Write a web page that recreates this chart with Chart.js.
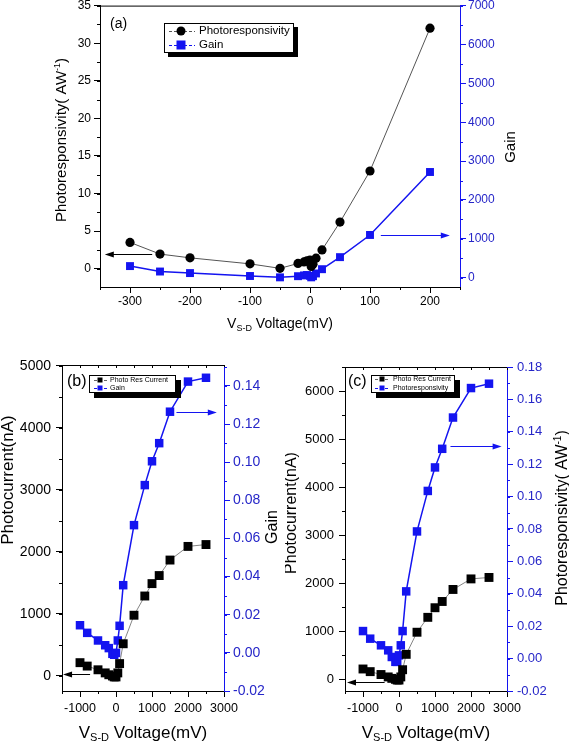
<!DOCTYPE html>
<html>
<head>
<meta charset="utf-8">
<script src="https://cdn.jsdelivr.net/npm/chart.js@4.4.0/dist/chart.umd.min.js"></script>
<style>
  html, body { margin: 0; padding: 0; background: #fff; }
  #wrap { position: relative; width: 569px; height: 746px; overflow: hidden; }
  canvas { position: absolute; }
</style>
</head>
<body>
<div id="wrap">
  <canvas id="ca" width="569" height="345" style="left:0;top:0"></canvas>
  <canvas id="cb" width="285" height="401" style="left:0;top:345px"></canvas>
  <canvas id="cc" width="284" height="401" style="left:285px;top:345px"></canvas>
</div>
<script>
// ---- data ----
// (a) photoresponsivity and gain vs V_S-D (mV)
const voltA = [-300, -250, -200, -100, -50, -20, -10, -5, 0, 2, 5, 10, 20, 50, 100, 200];
const respA = [3.5, 1.95, 1.45, 0.65, 0.05, 0.7, 0.9, 1.05, 1.15, 0.3, 0.6, 1.4, 2.5, 6.2, 13, 32];
const gainA = [300, 160, 120, 45, 10, 40, 60, 70, 50, 10, 40, 110, 220, 530, 1100, 2720];

// (b) and (c) photocurrent (nA), gain, photoresponsivity vs V_S-D (mV)
const voltBC = [-1000, -800, -500, -300, -200, -100, -50, 0, 50, 100, 200, 500, 800, 1000, 1200, 1500, 2000, 2500];
const currentB = [215, 160, 100, 50, 20, 0, -15, -15, 50, 200, 520, 980, 1290, 1490, 1620, 1870, 2090, 2120];
const gainB = [0.0145, 0.0105, 0.0065, 0.004, 0.0025, -0.0005, -0.001, 0.0, 0.0065, 0.0142, 0.0355, 0.067, 0.088, 0.1005, 0.110, 0.1265, 0.1423, 0.1443];
const currentC = [215, 160, 100, 50, 20, 0, -15, -15, 50, 200, 520, 980, 1290, 1490, 1620, 1870, 2090, 2120];
const respC = [0.017, 0.0123, 0.0082, 0.0051, 0.001, -0.002, -0.002, 0.002, 0.0082, 0.017, 0.0415, 0.0785, 0.1035, 0.118, 0.1295, 0.1488, 0.167, 0.1697];

const FONT = "'Liberation Sans', Arial, sans-serif";
const BLUE = '#1414f0';
const BLUE_TXT = '#2626c8';

function pts(xs, ys) { return xs.map((x, i) => ({ x: x, y: ys[i] })); }

function majorTicks(step) {
  return function (scale) {
    const out = [];
    for (let i = Math.ceil(scale.min / step - 1e-9); i * step <= scale.max + 1e-9; i++) out.push({ value: i * step });
    scale.ticks = out;
  };
}

function axis(o) {
  const horiz = o.pos === 'bottom';
  return {
    type: 'linear', position: o.pos, min: o.min, max: o.max,
    afterBuildTicks: majorTicks(o.step),
    afterFit: function (s) {
      if (horiz) { s.height = o.size; s.paddingLeft = 0; s.paddingRight = 0; }
      else { s.width = o.size; s.paddingTop = 0; s.paddingBottom = 0; }
    },
    grid: { drawOnChartArea: false, drawTicks: true, tickLength: 6, color: o.color, tickColor: o.color, tickWidth: 1 },
    border: { display: true, color: o.color, width: 1 },
    ticks: {
      autoSkip: false, maxRotation: 0, minRotation: 0, padding: o.pad,
      color: o.text || o.color, font: { family: FONT, size: o.font },
      callback: o.fmt || (v => String(Math.round(v)))
    }
  };
}

// short ticks between the labelled ones, plus the top frame line
const minorTicks = {
  id: 'minorTicks',
  afterDraw(chart, args, opts) {
    const ctx = chart.ctx, a = chart.chartArea;
    ctx.save();
    ctx.lineWidth = 1;
    ctx.strokeStyle = '#000';
    ctx.beginPath();
    ctx.moveTo(a.left, a.top + 0.5);
    ctx.lineTo(a.right, a.top + 0.5);
    ctx.stroke();
    (opts.axes || []).forEach(m => {
      const s = chart.scales[m.id];
      ctx.strokeStyle = m.color || '#000';
      ctx.beginPath();
      for (let i = Math.ceil(s.min / m.step - 1e-9); i * m.step <= s.max + 1e-9; i++) {
        const p = Math.round(s.getPixelForValue(i * m.step)) + 0.5;
        if (m.side === 'bottom') { ctx.moveTo(p, a.bottom); ctx.lineTo(p, a.bottom + m.len); }
        else if (m.side === 'top') { ctx.moveTo(p, a.top); ctx.lineTo(p, a.top + m.len); }
        else if (m.side === 'left') { ctx.moveTo(a.left, p); ctx.lineTo(a.left - m.len, p); }
        else { ctx.moveTo(a.right, p); ctx.lineTo(a.right + m.len, p); }
      }
      ctx.stroke();
    });
    ctx.restore();
  }
};

// arrows pointing at the axis each series belongs to (data coordinates)
const arrows = {
  id: 'arrows',
  afterDraw(chart, args, opts) {
    const ctx = chart.ctx;
    (opts.list || []).forEach(r => {
      const xs = chart.scales.x, ys = chart.scales[r.axis];
      const x1 = xs.getPixelForValue(r.from), x2 = xs.getPixelForValue(r.to);
      const y = Math.round(ys.getPixelForValue(r.y)) + 0.5;
      const dir = Math.sign(x2 - x1);
      ctx.save();
      ctx.strokeStyle = r.color; ctx.fillStyle = r.color; ctx.lineWidth = 1;
      ctx.beginPath(); ctx.moveTo(x1, y); ctx.lineTo(x2 - dir * 6, y); ctx.stroke();
      ctx.beginPath(); ctx.moveTo(x2, y); ctx.lineTo(x2 - dir * 9, y - 3); ctx.lineTo(x2 - dir * 9, y + 3); ctx.closePath(); ctx.fill();
      ctx.restore();
    });
  }
};

// axis titles and panel letters with sub/superscripts
const titles = {
  id: 'titles',
  afterDraw(chart, args, opts) {
    const ctx = chart.ctx;
    (opts.items || []).forEach(it => {
      const sz = it.size;
      const fontOf = p => (p.sub || p.sup ? Math.round(sz * 0.62) : sz) + 'px ' + FONT;
      ctx.save();
      ctx.fillStyle = it.color || '#000';
      ctx.textBaseline = 'middle';
      ctx.textAlign = 'left';
      let total = 0;
      it.parts.forEach(p => { ctx.font = fontOf(p); total += ctx.measureText(p.t).width; });
      ctx.translate(it.x, it.y);
      if (it.rot) ctx.rotate(it.rot * Math.PI / 180);
      let x = it.align === 'left' ? 0 : -total / 2;
      it.parts.forEach(p => {
        ctx.font = fontOf(p);
        const dy = p.sub ? sz * 0.32 : p.sup ? -sz * 0.32 : 0;
        ctx.fillText(p.t, x, dy);
        x += ctx.measureText(p.t).width;
      });
      ctx.restore();
    });
  }
};

// boxed legend with a drop shadow
const boxLegend = {
  id: 'boxLegend',
  afterDraw(chart, args, o) {
    if (!o.box) return;
    const ctx = chart.ctx;
    const [bx, by, bw, bh] = o.box;
    ctx.save();
    ctx.fillStyle = '#000';
    ctx.fillRect(bx + o.shadow, by + o.shadow, bw, bh);
    ctx.fillStyle = '#fff';
    ctx.fillRect(bx, by, bw, bh);
    ctx.strokeStyle = '#000'; ctx.lineWidth = 1;
    ctx.strokeRect(bx + 0.5, by + 0.5, bw - 1, bh - 1);
    o.rows.forEach(r => {
      const ds = chart.data.datasets[r.ds];
      ctx.strokeStyle = ds.borderColor; ctx.lineWidth = 1;
      ctx.setLineDash([3, 2]);
      ctx.beginPath(); ctx.moveTo(o.lx0, r.y + 0.5); ctx.lineTo(o.lx1, r.y + 0.5); ctx.stroke();
      ctx.setLineDash([]);
      ctx.fillStyle = ds.pointBackgroundColor;
      if (ds.pointStyle === 'circle') { ctx.beginPath(); ctx.arc(o.mx, r.y, o.ms / 2, 0, Math.PI * 2); ctx.fill(); }
      else ctx.fillRect(o.mx - o.ms / 2, r.y - o.ms / 2, o.ms, o.ms);
      ctx.fillStyle = '#000';
      ctx.font = o.font + 'px ' + FONT;
      ctx.textBaseline = 'middle';
      ctx.fillText(ds.label, o.tx, r.y);
    });
    ctx.restore();
  }
};

Chart.register(minorTicks, arrows, titles, boxLegend);

function series(label, data, axisId, color, lineColor, lineW, style, radius) {
  return {
    label: label, data: data, yAxisID: axisId, showLine: true,
    borderColor: lineColor, borderWidth: lineW,
    pointStyle: style, pointRadius: radius, pointHoverRadius: radius,
    pointBackgroundColor: color, pointBorderColor: color, pointBorderWidth: 0,
    clip: false
  };
}

const VSD = [{ t: 'V' }, { t: 'S-D', sub: true }, { t: ' Voltage(mV)' }];
const RESP = [{ t: 'Photoresponsivity( AW' }, { t: '-1', sup: true }, { t: ')' }];

function makeChart(id, cfg) {
  return new Chart(document.getElementById(id), {
    type: 'scatter',
    data: { datasets: cfg.datasets },
    options: {
      responsive: false, animation: false, events: [],
      layout: { padding: { top: cfg.top, left: 0, right: 0, bottom: 0 } },
      scales: cfg.scales,
      plugins: {
        legend: { display: false }, tooltip: { enabled: false },
        minorTicks: { axes: cfg.minor },
        arrows: { list: cfg.arrows },
        titles: { items: cfg.titles },
        boxLegend: cfg.legend
      }
    }
  });
}

// ---- (a) ----
makeChart('ca', {
  top: 5,
  datasets: [
    series('Photoresponsivity', pts(voltA, respA), 'y', '#000', '#555', 1, 'circle', 4.6),
    series('Gain', pts(voltA, gainA), 'y1', BLUE, BLUE, 1.5, 'rect', 5.6)
  ],
  scales: {
    x: axis({ pos: 'bottom', min: -350, max: 250, step: 100, size: 58, color: '#000', font: 12, pad: 1 }),
    y: axis({ pos: 'left', min: -2.43, max: 35, step: 5, size: 100, color: '#000', font: 12, pad: 3 }),
    y1: axis({ pos: 'right', min: -238, max: 7000, step: 1000, size: 109, color: BLUE, text: BLUE_TXT, font: 12, pad: 2 })
  },
  minor: [
    { id: 'x', step: 50, len: 3, side: 'bottom' },
    { id: 'y', step: 2.5, len: 3, side: 'left' },
    { id: 'y1', step: 500, len: 3, side: 'right', color: BLUE }
  ],
  arrows: [
    { axis: 'y', from: -263, to: -342, y: 1.9, color: '#000' },
    { axis: 'y1', from: 118, to: 233, y: 1095, color: BLUE }
  ],
  titles: [
    { parts: RESP, x: 62, y: 140, rot: -90, size: 15 },
    { parts: [{ t: 'Gain' }], x: 511, y: 147, rot: -90, size: 15 },
    { parts: VSD, x: 280, y: 324, size: 14 },
    { parts: [{ t: '(a)' }], x: 110, y: 24, size: 14, align: 'left' }
  ],
  legend: {
    box: [164, 23, 130, 30], shadow: 4,
    rows: [{ ds: 0, y: 31 }, { ds: 1, y: 45 }],
    lx0: 169, lx1: 195, mx: 181, ms: 9, tx: 199, font: 11.5
  }
});

// ---- (b) ----
makeChart('cb', {
  top: 20,
  datasets: [
    series('Photo Res Current', pts(voltBC, currentB), 'y', '#000', '#666', 0.8, 'rect', 6.3),
    series('Gain', pts(voltBC, gainB), 'y1', BLUE, BLUE, 1.5, 'rect', 6.0)
  ],
  scales: {
    x: axis({ pos: 'bottom', min: -1500, max: 3000, step: 1000, size: 55, color: '#000', font: 12.5, pad: 4 }),
    y: axis({ pos: 'left', min: -242, max: 5016, step: 1000, size: 62, color: '#000', font: 14, pad: 5 }),
    y1: axis({ pos: 'right', min: -0.02, max: 0.151, step: 0.02, size: 61, color: BLUE, text: BLUE_TXT, font: 14, pad: 3, fmt: v => v.toFixed(2) })
  },
  minor: [
    { id: 'x', step: 500, len: 3, side: 'bottom' },
    { id: 'x', step: 500, len: 3, side: 'top' },
    { id: 'y', step: 500, len: 3, side: 'left' },
    { id: 'y1', step: 0.01, len: 3, side: 'right', color: BLUE }
  ],
  arrows: [
    { axis: 'y', from: -720, to: -1470, y: 30, color: '#000' },
    { axis: 'y1', from: 1680, to: 2800, y: 0.1264, color: BLUE }
  ],
  titles: [
    { parts: [{ t: 'Photocurrent(nA)' }], x: 8, y: 135, rot: -90, size: 17 },
    { parts: [{ t: 'Gain' }], x: 273, y: 182, rot: -90, size: 16 },
    { parts: VSD, x: 143, y: 388, size: 17 },
    { parts: [{ t: '(b)' }], x: 67, y: 37, size: 16, align: 'left' }
  ],
  legend: {
    box: [89, 30, 87, 18], shadow: 5,
    rows: [{ ds: 0, y: 35 }, { ds: 1, y: 43 }],
    lx0: 94, lx1: 107, mx: 100, ms: 5, tx: 110, font: 7
  }
});

// ---- (c) ----
makeChart('cc', {
  top: 22,
  datasets: [
    series('Photo Res Current', pts(voltBC, currentC), 'y', '#000', '#666', 0.8, 'rect', 6.3),
    series('Photoresponsivity', pts(voltBC, respC), 'y1', BLUE, BLUE, 1.5, 'rect', 6.0)
  ],
  scales: {
    x: axis({ pos: 'bottom', min: -1500, max: 3000, step: 1000, size: 55, color: '#000', font: 12.5, pad: 4 }),
    y: axis({ pos: 'left', min: -243, max: 6500, step: 1000, size: 60, color: '#000', font: 13, pad: 5 }),
    y1: axis({ pos: 'right', min: -0.02, max: 0.18, step: 0.02, size: 62, color: BLUE, text: BLUE_TXT, font: 13, pad: 4, fmt: v => v.toFixed(2) })
  },
  minor: [
    { id: 'x', step: 500, len: 3, side: 'bottom' },
    { id: 'x', step: 500, len: 3, side: 'top' },
    { id: 'y', step: 500, len: 3, side: 'left' },
    { id: 'y1', step: 0.01, len: 3, side: 'right', color: BLUE }
  ],
  arrows: [
    { axis: 'y', from: -400, to: -1445, y: -55, color: '#000' },
    { axis: 'y1', from: 1430, to: 2850, y: 0.131, color: BLUE }
  ],
  titles: [
    { parts: [{ t: 'Photocurrent(nA)' }], x: 7, y: 168, rot: -90, size: 16 },
    { parts: RESP, x: 278, y: 173, rot: -90, size: 16 },
    { parts: VSD, x: 141, y: 388, size: 17 },
    { parts: [{ t: '(c)' }], x: 63, y: 37, size: 16, align: 'left' }
  ],
  legend: {
    box: [86, 30, 84, 18], shadow: 5,
    rows: [{ ds: 0, y: 34 }, { ds: 1, y: 43 }],
    lx0: 90, lx1: 104, mx: 97, ms: 5, tx: 108, font: 7
  }
});
</script>
</body>
</html>
